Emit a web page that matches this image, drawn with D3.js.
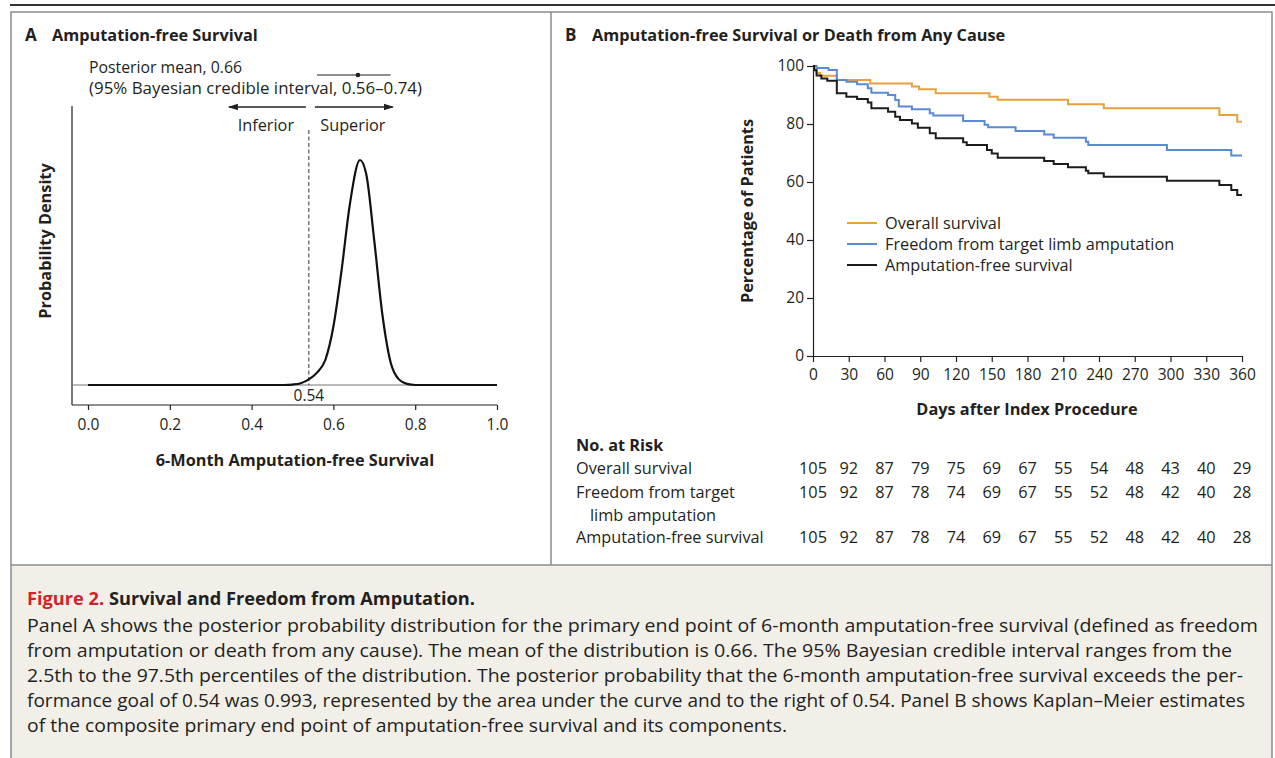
<!DOCTYPE html>
<html>
<head>
<script src="https://d3js.org/d3.v7.min.js"></script>
<style>
  body { margin: 0; background: #fff; }
  svg text { font-family: "Open Sans", sans-serif; fill: #231f20; }
  .ttl { font-weight: 700; font-size: 16.3px; }
  .lbl { font-size: 16.3px; }
  .tick text { font-size: 15.5px; font-family: "Open Sans", sans-serif; fill: #231f20; }
</style>
</head>
<body>
<svg width="1275" height="758"></svg>
<script>
// ---- Panel A: posterior density (relative height)
var densX = [0, 0.48, 0.50, 0.52, 0.54, 0.56, 0.58, 0.60, 0.62, 0.64, 0.665, 0.68, 0.70, 0.72, 0.74, 0.76, 0.78, 0.80, 0.82, 1.0];
var densY = [0, 0, 0.002, 0.008, 0.025, 0.055, 0.11, 0.26, 0.51, 0.80, 1.0, 0.94, 0.64, 0.31, 0.10, 0.025, 0.005, 0, 0, 0];
var postMean = 0.66, ciLow = 0.56, ciHigh = 0.74, goal = 0.54;
var aTicks = [0, 0.2, 0.4, 0.6, 0.8, 1.0];

// ---- Panel B: Kaplan-Meier steps (day of step, percent after step)
var osDays = [0, 1, 3, 6, 20, 48, 83, 89, 103, 148, 155, 214, 244, 341, 356];
var osPct  = [100, 98.8, 97.6, 96.6, 95.2, 94.0, 92.9, 92.0, 90.6, 89.4, 88.4, 86.8, 85.4, 83.1, 80.8];
var ffDays = [0, 3, 13, 20, 28, 37, 46, 49, 63, 69, 72, 83, 98, 101, 126, 144, 147, 170, 194, 202, 229, 231, 297, 351];
var ffPct  = [100, 99.3, 98.6, 95.2, 94.6, 93.7, 92.3, 90.8, 90.0, 88.3, 86.0, 85.1, 83.7, 82.9, 81.0, 79.7, 78.9, 77.6, 76.4, 75.3, 73.9, 72.8, 71.0, 69.1];
var afDays = [0, 1, 3, 7, 12, 20, 28, 37, 46, 49, 63, 69, 73, 83, 88, 98, 103, 126, 129, 146, 150, 155, 194, 202, 214, 229, 231, 244, 297, 341, 351, 356];
var afPct  = [100, 98.5, 96.7, 95.7, 94.9, 90.6, 89.4, 88.6, 87.4, 85.4, 84.2, 82.5, 81.4, 80.2, 78.7, 76.8, 75.1, 73.7, 72.8, 71.0, 69.8, 68.4, 67.2, 66.2, 65.1, 63.9, 63.0, 61.8, 60.4, 59.0, 57.2, 55.5];
var lastDay = 360;

var dayTicks = [0, 30, 60, 90, 120, 150, 180, 210, 240, 270, 300, 330, 360];
var pctTicks = [0, 20, 40, 60, 80, 100];

var seriesNames = ["Overall survival", "Freedom from target limb amputation", "Amputation-free survival"];
var seriesColors = ["#e8a03c", "#5a8ad2", "#1c1c1c"];

var riskNames = [["Overall survival"], ["Freedom from target", "limb amputation"], ["Amputation-free survival"]];
var riskOS  = [105, 92, 87, 79, 75, 69, 67, 55, 54, 48, 43, 40, 29];
var riskFF  = [105, 92, 87, 78, 74, 69, 67, 55, 52, 48, 42, 40, 28];
var riskAF  = [105, 92, 87, 78, 74, 69, 67, 55, 52, 48, 42, 40, 28];

var captionLines = [
  "Panel A shows the posterior probability distribution for the primary end point of 6-month amputation-free survival (defined as freedom",
  "from amputation or death from any cause). The mean of the distribution is 0.66. The 95% Bayesian credible interval ranges from the",
  "2.5th to the 97.5th percentiles of the distribution. The posterior probability that the 6-month amputation-free survival exceeds the per-",
  "formance goal of 0.54 was 0.993, represented by the area under the curve and to the right of 0.54. Panel B shows Kaplan\u2013Meier estimates",
  "of the composite primary end point of amputation-free survival and its components."
];
var captionWidths = [1231, 1205, 1216, 1218, 760];

var svg = d3.select("svg");
var ink = "#231f20";

// ---- frame
svg.append("rect").attr("x", 11).attr("y", 565).attr("width", 1261).attr("height", 200)
  .attr("fill", "#f2efe9");
svg.append("line").attr("x1", 10).attr("x2", 1275).attr("y1", 5).attr("y2", 5)
  .attr("stroke", "#333").attr("stroke-width", 2);
svg.append("rect").attr("x", 11).attr("y", 12).attr("width", 1261).attr("height", 760)
  .attr("fill", "none").attr("stroke", "#8c8c8c").attr("stroke-width", 1.5);
svg.append("line").attr("x1", 551).attr("x2", 551).attr("y1", 12).attr("y2", 565)
  .attr("stroke", "#8c8c8c").attr("stroke-width", 1.5);
svg.append("line").attr("x1", 11).attr("x2", 1272).attr("y1", 565).attr("y2", 565)
  .attr("stroke", "#8c8c8c").attr("stroke-width", 1.5);

// ---- Panel A
svg.append("text").attr("class", "ttl").attr("x", 25).attr("y", 41).style("font-size", "17px").text("A");
svg.append("text").attr("class", "ttl").attr("x", 52).attr("y", 41).text("Amputation-free Survival");

var xa = d3.scaleLinear().domain([0, 1]).range([88, 497]);
var ya = d3.scaleLinear().domain([0, 1]).range([385, 160]);

var axA = svg.append("g").attr("transform", "translate(0,405)")
  .call(d3.axisBottom(xa).tickValues(aTicks).tickFormat(d3.format(".1f")).tickSize(5).tickPadding(9).tickSizeOuter(0));
axA.select(".domain").remove();
axA.selectAll(".tick line").attr("stroke", ink).attr("stroke-width", 1.2);
svg.append("line").attr("x1", 72).attr("x2", xa(1)).attr("y1", 405).attr("y2", 405)
  .attr("stroke", ink).attr("stroke-width", 1.2);
svg.append("line").attr("x1", 72).attr("x2", 72).attr("y1", 106).attr("y2", 405)
  .attr("stroke", ink).attr("stroke-width", 1.2);

// baseline and goal line
svg.append("line").attr("x1", 72).attr("x2", xa(1)).attr("y1", ya(0)).attr("y2", ya(0))
  .attr("stroke", "#777").attr("stroke-width", 1);
svg.append("line").attr("x1", xa(goal)).attr("x2", xa(goal)).attr("y1", 130).attr("y2", ya(0))
  .attr("stroke", "#333").attr("stroke-width", 1).attr("stroke-dasharray", "4,2.5");
svg.append("text").attr("x", xa(goal)).attr("y", 401).attr("text-anchor", "middle")
  .style("font-size", "15.5px").text("0.54");

var densData = densX.map(function(d, i) { return [d, densY[i]]; });
svg.append("path").datum(densData)
  .attr("d", d3.line().x(function(d) { return xa(d[0]); }).y(function(d) { return ya(d[1]); }).curve(d3.curveMonotoneX))
  .attr("fill", "none").attr("stroke", "#111").attr("stroke-width", 2.2);

// posterior mean and credible interval
svg.append("text").attr("class", "lbl").attr("x", 89).attr("y", 73).style("font-size", "15.8px").text("Posterior mean, 0.66");
svg.append("text").attr("class", "lbl").attr("x", 89).attr("y", 94).style("font-size", "15.8px")
  .attr("textLength", 333).attr("lengthAdjust", "spacingAndGlyphs")
  .text("(95% Bayesian credible interval, 0.56\u20130.74)");
svg.append("line").attr("x1", xa(ciLow)).attr("x2", xa(ciHigh)).attr("y1", 75).attr("y2", 75)
  .attr("stroke", ink).attr("stroke-width", 1.2);
svg.append("circle").attr("cx", xa(postMean)).attr("cy", 75).attr("r", 2.3).attr("fill", ink);

// inferior / superior arrows
var defs = svg.append("defs");
defs.append("marker").attr("id", "arr").attr("viewBox", "0 0 10 10").attr("refX", 9).attr("refY", 5)
  .attr("markerWidth", 10).attr("markerHeight", 10).attr("markerUnits", "userSpaceOnUse").attr("orient", "auto")
  .append("path").attr("d", "M0,1.8 L10,5 L0,8.2 Z").attr("fill", ink);
svg.append("line").attr("x1", xa(goal) - 3).attr("x2", xa(goal) - 80).attr("y1", 107).attr("y2", 107)
  .attr("stroke", ink).attr("stroke-width", 1.3).attr("marker-end", "url(#arr)");
svg.append("line").attr("x1", xa(goal) + 6).attr("x2", xa(goal) + 84).attr("y1", 107).attr("y2", 107)
  .attr("stroke", ink).attr("stroke-width", 1.3).attr("marker-end", "url(#arr)");
svg.append("text").attr("class", "lbl").attr("x", xa(goal) - 43).attr("y", 131).attr("text-anchor", "middle").text("Inferior");
svg.append("text").attr("class", "lbl").attr("x", xa(goal) + 44).attr("y", 131).attr("text-anchor", "middle").text("Superior");

svg.append("text").attr("class", "ttl").attr("transform", "translate(51,241) rotate(-90)")
  .attr("text-anchor", "middle").text("Probability Density");
svg.append("text").attr("class", "ttl").attr("x", 295).attr("y", 466)
  .attr("text-anchor", "middle").text("6-Month Amputation-free Survival");

// ---- Panel B
svg.append("text").attr("class", "ttl").attr("x", 565).attr("y", 41).style("font-size", "17px").text("B");
svg.append("text").attr("class", "ttl").attr("x", 592).attr("y", 41).text("Amputation-free Survival or Death from Any Cause");

var xb = d3.scaleLinear().domain([0, 360]).range([813, 1242]);
var yb = d3.scaleLinear().domain([0, 100]).range([356, 66]);

var axX = svg.append("g").attr("transform", "translate(0,356)")
  .call(d3.axisBottom(xb).tickValues(dayTicks).tickSize(6).tickPadding(7).tickSizeOuter(0));
var axY = svg.append("g").attr("transform", "translate(813,0)")
  .call(d3.axisLeft(yb).tickValues(pctTicks).tickSize(6).tickPadding(3).tickSizeOuter(0));
[axX, axY].forEach(function(a) {
  a.select(".domain").attr("stroke", ink).attr("stroke-width", 1.2);
  a.selectAll(".tick line").attr("stroke", ink).attr("stroke-width", 1.2);
});

function steps(days, pct) {
  var pts = days.map(function(d, i) { return [d, pct[i]]; });
  pts.push([lastDay, pct[pct.length - 1]]);
  return pts;
}
var kmLine = d3.line().x(function(d) { return xb(d[0]); }).y(function(d) { return yb(d[1]); }).curve(d3.curveStepAfter);
var curves = [steps(osDays, osPct), steps(ffDays, ffPct), steps(afDays, afPct)];
curves.forEach(function(c, i) {
  svg.append("path").datum(c).attr("d", kmLine).attr("fill", "none")
    .attr("stroke", seriesColors[i]).attr("stroke-width", 2);
});

// legend
seriesNames.forEach(function(n, i) {
  var y = 223 + i * 21;
  svg.append("line").attr("x1", 847).attr("x2", 877).attr("y1", y).attr("y2", y)
    .attr("stroke", seriesColors[i]).attr("stroke-width", 2);
  svg.append("text").attr("class", "lbl").attr("x", 885).attr("y", y + 5.5).text(n);
});

svg.append("text").attr("class", "ttl").attr("transform", "translate(753,211) rotate(-90)")
  .attr("text-anchor", "middle").text("Percentage of Patients");
svg.append("text").attr("class", "ttl").attr("x", 1027).attr("y", 415)
  .attr("text-anchor", "middle").text("Days after Index Procedure");

// number at risk
svg.append("text").attr("class", "ttl").attr("x", 576).attr("y", 451).text("No. at Risk");
var riskRows = [riskOS, riskFF, riskAF];
var riskY = [474, 498, 543];
riskRows.forEach(function(row, r) {
  riskNames[r].forEach(function(s, k) {
    svg.append("text").attr("class", "lbl").attr("x", k === 0 ? 576 : 590).attr("y", riskY[r] + k * 23).text(s);
  });
  svg.selectAll(null).data(row).enter().append("text").attr("class", "lbl")
    .attr("x", function(d, i) { return xb(dayTicks[i]); }).attr("y", riskY[r])
    .attr("text-anchor", "middle").text(function(d) { return d; });
});

// ---- caption
var capT = svg.append("text").attr("x", 27).attr("y", 605).style("font-size", "17.5px").style("font-weight", 700)
  .attr("textLength", 448).attr("lengthAdjust", "spacingAndGlyphs");
capT.append("tspan").style("fill", "#d2232a").text("Figure 2. ");
capT.append("tspan").text("Survival and Freedom from Amputation.");
captionLines.forEach(function(l, i) {
  svg.append("text").attr("x", 27).attr("y", 632 + i * 25).style("font-size", "17.5px")
    .attr("textLength", captionWidths[i]).attr("lengthAdjust", "spacingAndGlyphs").text(l);
});
</script>
</body>
</html>
